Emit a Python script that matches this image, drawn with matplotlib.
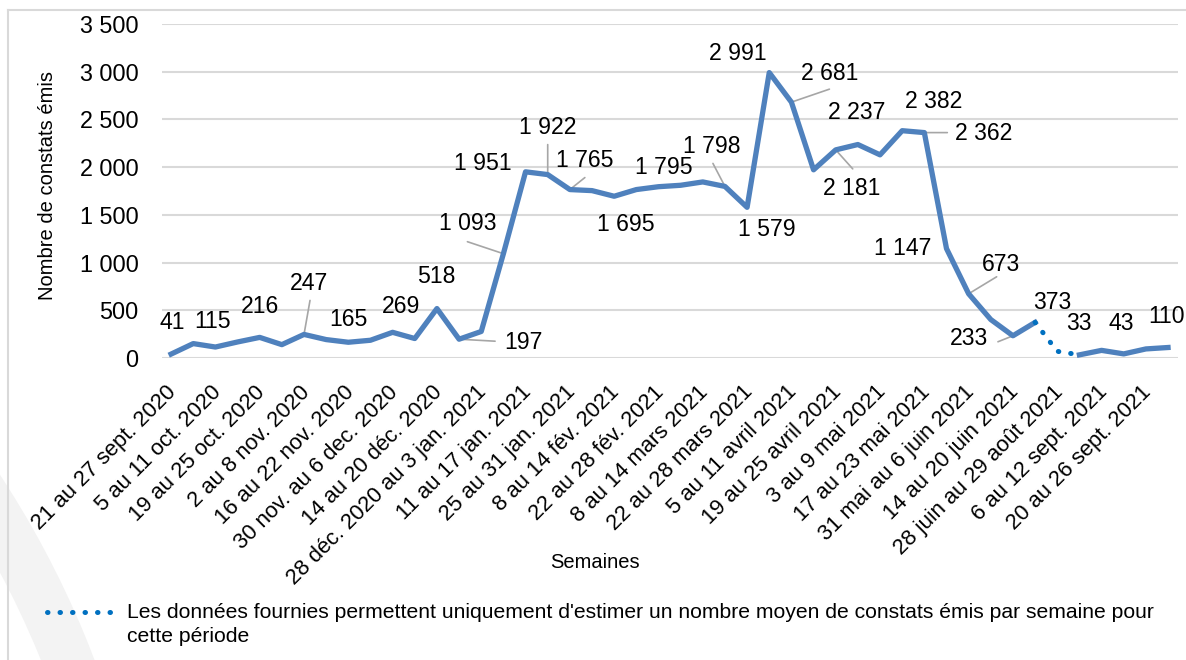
import numpy as np
import matplotlib
matplotlib.use("Agg")
from matplotlib import pyplot as plt
from matplotlib.patches import Wedge
from matplotlib.lines import Line2D
from matplotlib.transforms import ScaledTranslation

plt.rcParams['font.family'] = ['Liberation Sans', 'DejaVu Sans']

# weekly counts (index 40 = average for 28 juin - 29 aout)
values = [41, 151, 115, 168, 216, 140, 247, 193, 165, 186,
          269, 204, 518, 197, 278, 1093, 1951, 1922, 1765, 1754,
          1695, 1765, 1795, 1810, 1845, 1798, 1579, 2991, 2681, 1972,
          2181, 2237, 2129, 2382, 2362, 1147, 673, 403, 233, 373,
          70, 33, 80, 43, 95, 110]
solid_a = range(0, 40)
dotted = range(39, 42)
solid_b = range(41, 46)

tick_labels = ["21 au 27 sept. 2020", "5 au 11 oct. 2020", "19 au 25 oct. 2020",
               "2 au 8 nov. 2020", "16 au 22 nov. 2020", "30 nov. au 6 dec. 2020",
               "14 au 20 déc. 2020", "28 déc. 2020 au 3 jan. 2021", "11 au 17 jan. 2021",
               "25 au 31 jan. 2021", "8 au 14 fév. 2021", "22 au 28 fév. 2021",
               "8 au 14 mars 2021", "22 au 28 mars 2021", "5 au 11 avril 2021",
               "19 au 25 avril 2021", "3 au 9 mai 2021", "17 au 23 mai 2021",
               "31 mai au 6 juin 2021", "14 au 20 juin 2021", "28 juin au 29 août 2021",
               "6 au 12 sept. 2021", "20 au 26 sept. 2021"]

# labelled points: index -> (text offset px, leader start offset px or None), y down
label_pos = {
    0: ((1, -32), None), 2: ((-3, -26), None), 4: ((0, -31), None),
    6: ((5, -51), (6, -34)), 8: ((0, -23), None), 10: ((8, -26), None),
    12: ((-1, -32), None), 13: ((64, 3), (36, 2)), 15: ((-36, -30), (-36, -12)),
    16: ((-43, -8), None), 17: ((0, -47), (0, -30)), 18: ((15, -29), (15, -12)),
    20: ((12, 28), None), 22: ((5, -19), None), 25: ((-13, -40), (-12, -23)),
    26: ((20, 22), None), 27: ((-31, -19), None), 28: ((38, -29), (38, -13)),
    30: ((16, 39), (17, 19)), 31: ((-1, -32), None), 33: ((32, -29), None),
    34: ((59, 1), (23, 0)), 35: ((-44, 0), None), 36: ((32, -29), (28, -17)),
    38: ((-44, 3), (-15, 6)), 39: ((17, -20), None), 41: ((-1, -31), None),
    43: ((-2, -30), None), 45: ((-2, -31), None),
}

W, H = 1186, 660
fig = plt.figure(figsize=(W / 100, H / 100), dpi=100)

# background decoration + frame
bg = fig.add_axes([0, 0, 1, 1], zorder=0)
bg.set_xlim(0, W)
bg.set_ylim(H, 0)
bg.axis('off')
bg.add_patch(Wedge((-800, 1000), 957, 0, 360, width=50, facecolor='#f3f3f3', edgecolor='none'))
bg.plot([8, 8], [10, H], color='#d9d9d9', lw=1.5)
bg.plot([8, W], [10, 10], color='#d9d9d9', lw=1.5)

ax = fig.add_axes([162 / W, 1 - 358 / H, (1178 - 162) / W, (358 - 24) / H], zorder=1)
ax.patch.set_alpha(0)

x = np.arange(len(values))
v = np.array(values)
blue = '#4f81bd'
ax.plot(x[list(solid_a)], v[list(solid_a)], color=blue, lw=3.8, zorder=3)
ax.plot(x[list(solid_b)], v[list(solid_b)], color=blue, lw=3.8, zorder=3)
ax.plot(x[list(dotted)], v[list(dotted)], color='#0070c0', lw=3.6,
        linestyle=(0, (0.1, 2.4)), dash_capstyle='round', zorder=3)

ax.set_xlim(-0.41, 45.45)
ax.set_ylim(0, 3500)
ax.set_yticks(range(0, 3501, 500))
ax.set_yticklabels([f"{t:,}".replace(",", " ") for t in range(0, 3501, 500)], fontsize=16.8)
ax.grid(axis='y', color='#d9d9d9', lw=1.5)
ax.set_axisbelow(True)
for s in ax.spines.values():
    s.set_visible(False)
ax.tick_params(axis='y', length=0, pad=17)
ax.tick_params(axis='x', length=0, pad=17)
ax.set_xticks(range(0, 45, 2))
ax.set_xticklabels(tick_labels, rotation=45, ha='right', va='top',
                   rotation_mode='anchor', fontsize=15.8)
shift = ScaledTranslation(-5 / 100, 0, fig.dpi_scale_trans)
for lbl in ax.get_xticklabels():
    lbl.set_transform(lbl.get_transform() + shift)

fig.text(48 / W, 1 - 185 / H, "Nombre de constats émis", fontsize=14.5,
         rotation=90, ha='center', va='center')
fig.text(595 / W, 1 - 562 / H, "Semaines", fontsize=14.5, ha='center', va='center')

for i, (toff, loff) in label_pos.items():
    txt = f"{values[i]:,}".replace(",", " ")
    ax.annotate(txt, (i, values[i]), xytext=(toff[0], -toff[1]), textcoords='offset pixels',
                ha='center', va='center', fontsize=16.6, color='black', zorder=4)
    if loff is not None:
        ax.annotate('', (i, values[i]), xytext=(loff[0], -loff[1]), textcoords='offset pixels',
                    arrowprops=dict(arrowstyle='-', color='#a6a6a6', lw=1.2,
                                    shrinkA=0, shrinkB=0), zorder=2)

# legend for the dotted segment
fig.add_artist(Line2D([47 / W, 117 / W], [1 - 612 / H, 1 - 612 / H], color='#0070c0', lw=3.6,
                      linestyle=(0, (0.1, 2.4)), dash_capstyle='round'))
fig.text(127 / W, 1 - 612 / H,
         "Les données fournies permettent uniquement d'estimer un nombre moyen de constats émis par semaine pour",
         fontsize=15.2, va='center', ha='left')
fig.text(127 / W, 1 - 636 / H, "cette période", fontsize=15.2, va='center', ha='left')

fig.savefig("out.png", dpi=100)
